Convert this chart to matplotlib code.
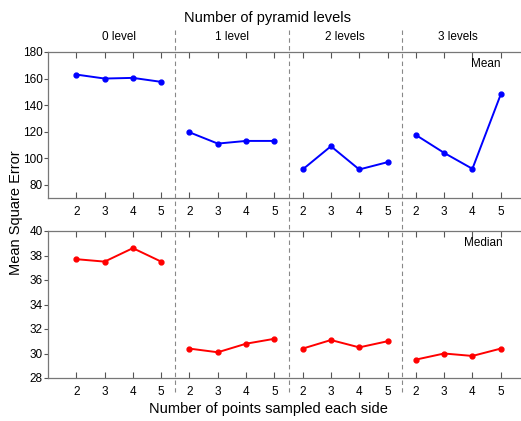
import numpy as np
import matplotlib
matplotlib.use('Agg')
import matplotlib.pyplot as plt
from matplotlib.lines import Line2D
import matplotlib.transforms as mtransforms

plt.rcParams['font.family'] = ['Liberation Sans', 'DejaVu Sans']

points = [2, 3, 4, 5]
groups = ['0 level', '1 level', '2 levels', '3 levels']

mean_err = [
    [163, 160, 160.5, 157.5],
    [119.5, 111, 113, 113],
    [91.5, 109, 91.5, 97],
    [117.5, 104, 92, 148],
]
median_err = [
    [37.7, 37.5, 38.6, 37.5],
    [30.4, 30.1, 30.8, 31.2],
    [30.4, 31.1, 30.5, 31.0],
    [29.5, 30.0, 29.8, 30.4],
]

W, H = 521, 421
fig = plt.figure(figsize=(W / 100, H / 100), dpi=100)

left = 48 / W
width = (529 - 48) / W
ax1 = fig.add_axes([left, 1 - 198 / H, width, 146 / H])
ax2 = fig.add_axes([left, 1 - 378 / H, width, 147 / H])

xticks = []
xlabels = []
for g in range(4):
    xs = [4 * g + p for p in points]
    xticks += xs
    xlabels += [str(p) for p in points]
    ax1.plot(xs, mean_err[g], color='#0000ff', lw=1.4, marker='o', ms=3.5)
    ax2.plot(xs, median_err[g], color='#ff0000', lw=1.4, marker='o', ms=3.5)

for ax, ylim, yt in [(ax1, (70, 180), range(80, 181, 20)),
                     (ax2, (28, 40), range(28, 41, 2))]:
    ax.set_xlim(1, 18)
    ax.set_ylim(*ylim)
    ax.set_yticks(list(yt))
    ax.set_xticks(xticks)
    ax.set_xticklabels(xlabels)
    ax.tick_params(axis='x', direction='in', top=True, bottom=True, length=4,
                   labelsize=8.5, pad=6, color='#555555')
    ax.tick_params(axis='y', direction='out', length=3, labelsize=8.5,
                   pad=1, color='#555555')
    ax.spines['right'].set_visible(False)
    for s in ['top', 'bottom', 'left']:
        ax.spines[s].set_color('#777777')
        ax.spines[s].set_linewidth(0.9)

ax1.text(0.94, 0.92, 'Mean', transform=ax1.transAxes, ha='right', va='center', fontsize=8.5)
ax2.text(0.946, 0.92, 'Median', transform=ax2.transAxes, ha='right', va='center', fontsize=8.5)

# dashed separators between pyramid levels
trans = mtransforms.blended_transform_factory(ax1.transData, fig.transFigure)
for xd in [5.5, 9.5, 13.5]:
    fig.add_artist(Line2D([xd, xd], [1 - 30 / H, 1 - 392 / H], transform=trans,
                          color='#888888', lw=0.8, ls=(0, (4, 3))))

trans_t = mtransforms.blended_transform_factory(ax1.transData, fig.transFigure)
for g, name in enumerate(groups):
    fig.text(4 * g + 3.5, 1 - 37 / H, name, transform=trans_t, ha='center',
             va='center', fontsize=8.5)

fig.text(268 / W, 1 - 18 / H, 'Number of pyramid levels', ha='center', va='center', fontsize=10.5)
fig.text(268 / W, 1 - 409 / H, 'Number of points sampled each side', ha='center',
         va='center', fontsize=10.5)
fig.text(16 / W, 1 - 213 / H, 'Mean Square Error', rotation=90, ha='center',
         va='center', fontsize=10.5)

fig.savefig('out.png', dpi=100)
